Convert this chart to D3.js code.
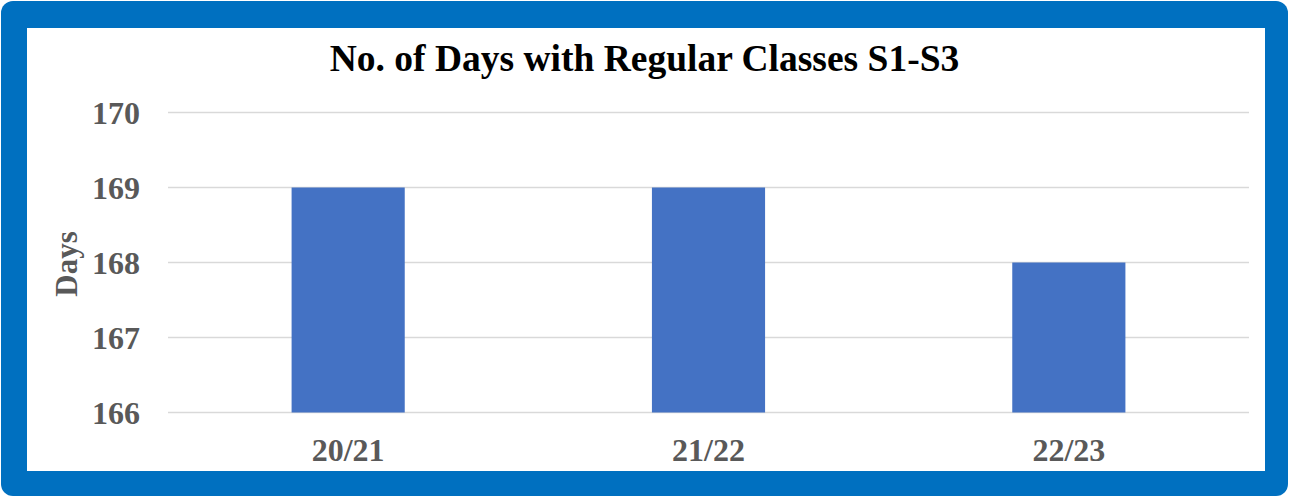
<!DOCTYPE html>
<html>
<head>
<meta charset="utf-8">
<script src="https://cdn.jsdelivr.net/npm/d3@7"></script>
<style>
  html, body { margin: 0; padding: 0; background: #fff; }
  svg { display: block; }
  text { font-family: "Liberation Serif", "Times New Roman", serif; font-weight: bold; }
</style>
</head>
<body>
<svg width="1289" height="497"></svg>
<script>
var categories = ["20/21", "21/22", "22/23"];
var days = [169, 169, 168];
var yTicks = [166, 167, 168, 169, 170];

var svg = d3.select("svg"),
    width = +svg.attr("width"),
    height = +svg.attr("height");

// blue frame
svg.append("rect")
  .attr("x", 1).attr("y", 1)
  .attr("width", width - 2).attr("height", height - 2)
  .attr("rx", 12).attr("ry", 12)
  .attr("fill", "#0070C0");
svg.append("rect")
  .attr("x", 27).attr("y", 28)
  .attr("width", 1265 - 27).attr("height", 471 - 28)
  .attr("fill", "#fff");

var x = d3.scaleBand()
    .domain(categories)
    .range([168, 1249])
    .paddingInner(0.686)
    .paddingOuter(0.343);

var y = d3.scaleLinear()
    .domain([166, 170])
    .range([412.5, 112.5]);

// gridlines
svg.append("g")
  .selectAll("line")
  .data(yTicks)
  .enter().append("line")
    .attr("x1", 168).attr("x2", 1249)
    .attr("y1", function(d) { return y(d); })
    .attr("y2", function(d) { return y(d); })
    .attr("stroke", "#d9d9d9")
    .attr("stroke-width", 1.5);

// bars
svg.append("g")
  .selectAll("rect")
  .data(days)
  .enter().append("rect")
    .attr("x", function(d, i) { return x(categories[i]); })
    .attr("width", x.bandwidth())
    .attr("y", function(d) { return y(d); })
    .attr("height", function(d) { return y(166) - y(d); })
    .attr("fill", "#4472C4");

// y axis labels
var yAxis = svg.append("g")
  .attr("transform", "translate(140,0)")
  .call(d3.axisLeft(y).tickValues(yTicks).tickSize(0).tickPadding(0).tickFormat(d3.format("d")));
yAxis.select(".domain").remove();
yAxis.selectAll("text")
  .attr("fill", "#595959")
  .style("font-size", "32px")
  .attr("dy", "0.34em");

// x axis labels
var xAxis = svg.append("g")
  .attr("transform", "translate(0,412.5)")
  .call(d3.axisBottom(x).tickSize(0).tickPadding(26));
xAxis.select(".domain").remove();
xAxis.selectAll("text")
  .attr("fill", "#595959")
  .style("font-size", "32px");

// title
svg.append("text")
  .attr("x", 644.5)
  .attr("y", 71)
  .attr("text-anchor", "middle")
  .attr("fill", "#000")
  .style("font-size", "37.5px")
  .text("No. of Days with Regular Classes S1-S3");

// y axis title
svg.append("text")
  .attr("transform", "translate(77,264) rotate(-90)")
  .attr("text-anchor", "middle")
  .attr("fill", "#595959")
  .style("font-size", "31px")
  .text("Days");
</script>
</body>
</html>
